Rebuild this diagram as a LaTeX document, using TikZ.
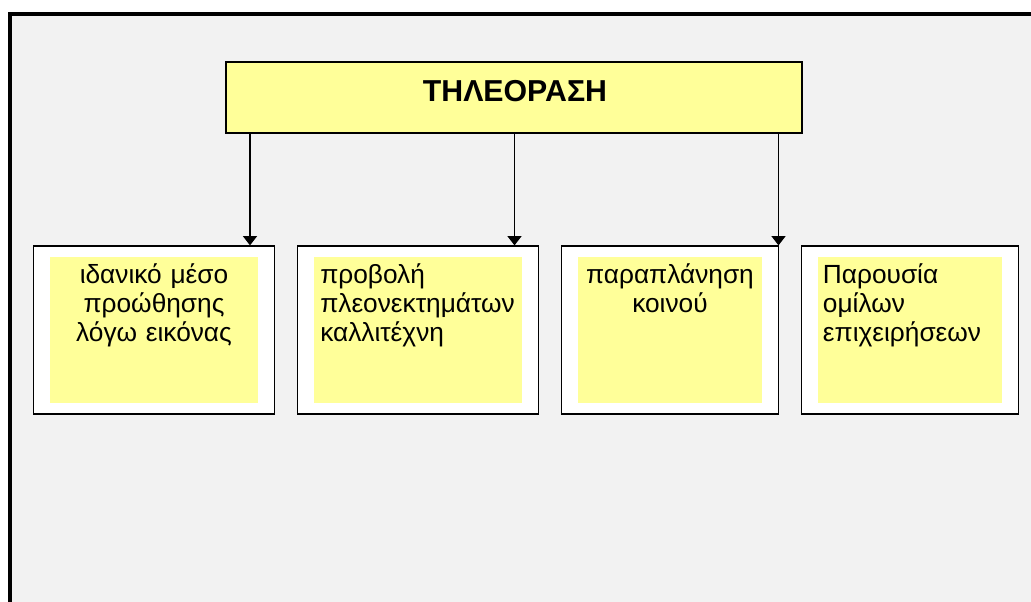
\documentclass[tikz,border=0pt]{standalone}
\usepackage{fontspec}
\setmainfont{Liberation Sans}
\usetikzlibrary{arrows.meta}
\definecolor{panelgray}{HTML}{F2F2F2}
\definecolor{noteyellow}{HTML}{FFFF99}
\begin{document}
\begin{tikzpicture}[x=0.75pt,y=-0.75pt,
  titlebox/.style={draw=black,line width=1.1pt,fill=noteyellow,inner sep=0pt,
    minimum width=576*0.75pt,minimum height=71*0.75pt},
  outerbox/.style={draw=black,line width=0.9pt,fill=white,inner sep=0pt,
    minimum height=168*0.75pt},
  innerbox/.style={fill=noteyellow,inner sep=0pt,minimum height=146*0.75pt},
  label/.style={inner sep=0pt,font=\fontsize{19.7}{21.9}\selectfont},
  arr/.style={line width=1pt,-{Triangle[width=10.5pt,length=7pt]}}]
  % page and clipped frame
  \useasboundingbox (0,0) rectangle (1031,601);
  \fill[white] (0,0) rectangle (1031,601);
  \clip (0,0) rectangle (1031,601);
  \draw[line width=3pt,fill=panelgray] (10,14) rectangle (1045,615);

  % heading
  \node[titlebox] (tv) at (514,97.5) {};
  \node[inner sep=0pt,anchor=base,font=\bfseries\fontsize{22.7}{27}\selectfont]
    (tvtext) at (515,101.7) {ΤΗΛΕΟΡΑΣΗ};

  % four notes
  \node[outerbox,minimum width=241*0.75pt] (b1) at (154,330) {};
  \node[outerbox,minimum width=241*0.75pt] (b2) at (418,330) {};
  \node[outerbox,minimum width=217*0.75pt] (b3) at (670,330) {};
  \node[outerbox,minimum width=217*0.75pt] (b4) at (910,330) {};
  \node[innerbox,minimum width=208*0.75pt] (y1) at (154,330) {};
  \node[innerbox,minimum width=208*0.75pt] (y2) at (418,330) {};
  \node[innerbox,minimum width=184*0.75pt] (y3) at (670,330) {};
  \node[innerbox,minimum width=184*0.75pt] (y4) at (910,330) {};

  \node[label,anchor=base,text width=208*0.75pt,align=center] (t1) at (154,283)
    {ιδανικό μέσο\\προώθησης\\λόγω εικόνας};
  \node[label,anchor=base west,text width=200*0.75pt,align=left] (t2) at (320,283)
    {προβολή\\πλεονεκτημάτων\\καλλιτέχνη};
  \node[label,anchor=base,text width=184*0.75pt,align=center] (t3) at (670,283)
    {παραπλάνηση\\κοινού};
  \node[label,anchor=base west,text width=180*0.75pt,align=left] (t4) at (822.7,283)
    {Παρουσία\\ομίλων\\επιχειρήσεων};

  % connectors
  \coordinate (s1) at (250,133);
  \coordinate (s2) at (514.5,133);
  \coordinate (s3) at (778.5,133);
  \draw[arr] (s1) -- (s1 |- b1.north);
  \draw[arr] (s2) -- (s2 |- b2.north);
  \draw[arr] (s3) -- (s3 |- b3.north);
\end{tikzpicture}
\end{document}
